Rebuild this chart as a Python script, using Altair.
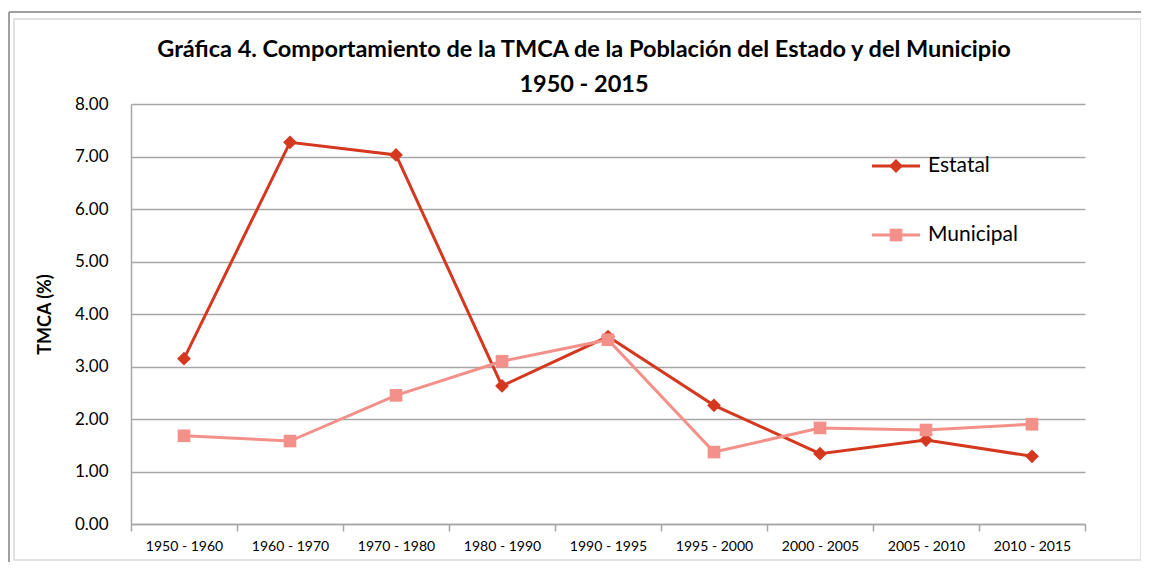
import altair as alt
import pandas as pd

periods = ["1950 - 1960", "1960 - 1970", "1970 - 1980", "1980 - 1990", "1990 - 1995",
           "1995 - 2000", "2000 - 2005", "2005 - 2010", "2010 - 2015"]
estatal = [3.15, 7.27, 7.03, 2.63, 3.57, 2.26, 1.34, 1.60, 1.29]
municipal = [1.68, 1.58, 2.45, 3.10, 3.51, 1.37, 1.83, 1.79, 1.90]
series_names = ["Estatal", "Municipal"]
series_colors = ["#D4381F", "#F4908A"]
series_shapes = ["diamond", "square"]
series_sizes = [190, 160]
y_ticks = [0, 1, 2, 3, 4, 5, 6, 7, 8]

FONT = "Lato"
GRID = "#A6A6A6"

W, H = 954, 420

x_enc = alt.X("periodo:N", sort=periods,
              scale=alt.Scale(domain=periods, paddingInner=0, paddingOuter=0),
              axis=alt.Axis(title=None, labelAngle=0, labelFontSize=14, labelFont=FONT,
                            labelColor="#000000", tickBand="extent", tickSize=7,
                            tickColor=GRID, tickWidth=1.5, domainColor=GRID,
                            domainWidth=1.5, labelPadding=8, grid=False))
y_enc = alt.Y("valor:Q",
              scale=alt.Scale(domain=[0, 8], nice=False, zero=True),
              axis=alt.Axis(title="TMCA (%)", values=y_ticks, format=".2f",
                            labelFontSize=17, labelFont=FONT, labelColor="#000000",
                            labelPadding=23, tickSize=0, domainColor=GRID,
                            domainWidth=1.5, gridColor=GRID, gridWidth=1.3,
                            titleFont=FONT, titleFontSize=18, titleFontWeight="bold",
                            titleColor="#000000", titlePadding=20))

layers = []
for name, vals, col, shp, sz in zip(series_names, [estatal, municipal],
                                    series_colors, series_shapes, series_sizes):
    df = pd.DataFrame({"periodo": periods, "valor": vals, "serie": name})
    base = alt.Chart(df)
    layers.append(base.mark_line(color=col, strokeWidth=3).encode(x=x_enc, y=y_enc))
    layers.append(base.mark_point(color=col, filled=True, opacity=1, shape=shp, size=sz)
                  .encode(x=x_enc, y=y_enc))

# legend (manual, Excel style)
leg_df = pd.DataFrame({"serie": series_names})
leg_y = [62, 131]
for name, col, shp, sz, ly in zip(series_names, series_colors, series_shapes,
                                  series_sizes, leg_y):
    d = alt.Chart(leg_df[leg_df.serie == name])
    layers.append(d.mark_rule(color=col, strokeWidth=3).encode(
        x=alt.value(741), x2=alt.value(789), y=alt.value(ly)))
    layers.append(d.mark_point(color=col, filled=True, opacity=1, shape=shp, size=sz).encode(
        x=alt.value(765), y=alt.value(ly)))
    layers.append(d.mark_text(align="left", baseline="middle", fontSize=21, font=FONT,
                              color="#000000").encode(
        x=alt.value(797), y=alt.value(ly), text="serie:N"))

# chart frame
frame_df = pd.DataFrame({"k": [1]})
fr = alt.Chart(frame_df)
frame_layers = [
    fr.mark_rect(fill=None, stroke="#D9D9D9", strokeWidth=1.5).encode(
        x=alt.value(-117), x2=alt.value(1010), y=alt.value(-85), y2=alt.value(456)),
    fr.mark_rule(color="#A0A0A0", strokeWidth=2).encode(
        x=alt.value(-122), x2=alt.value(1030), y=alt.value(-92)),
    fr.mark_rule(color="#A0A0A0", strokeWidth=2).encode(
        x=alt.value(-122), y=alt.value(-92), y2=alt.value(470)),
]

chart = alt.layer(*frame_layers, *layers).properties(
    width=W, height=H,
    title=alt.TitleParams(
        ["Gráfica 4. Comportamiento de la TMCA de la Población del Estado y del Municipio",
         "1950 - 2015"],
        anchor="middle", frame="group", fontSize=23.5, font=FONT, fontWeight="bold",
        color="#000000", lineHeight=35, offset=8, dx=-24, dy=93),
    autosize=alt.AutoSizeParams(type="none"),
    padding={"left": 123, "top": 96, "right": 56, "bottom": 38},
).configure_view(stroke=None).configure_axisY(domain=True)

chart.save("out.html", embed_options={"renderer": "svg", "actions": False})
